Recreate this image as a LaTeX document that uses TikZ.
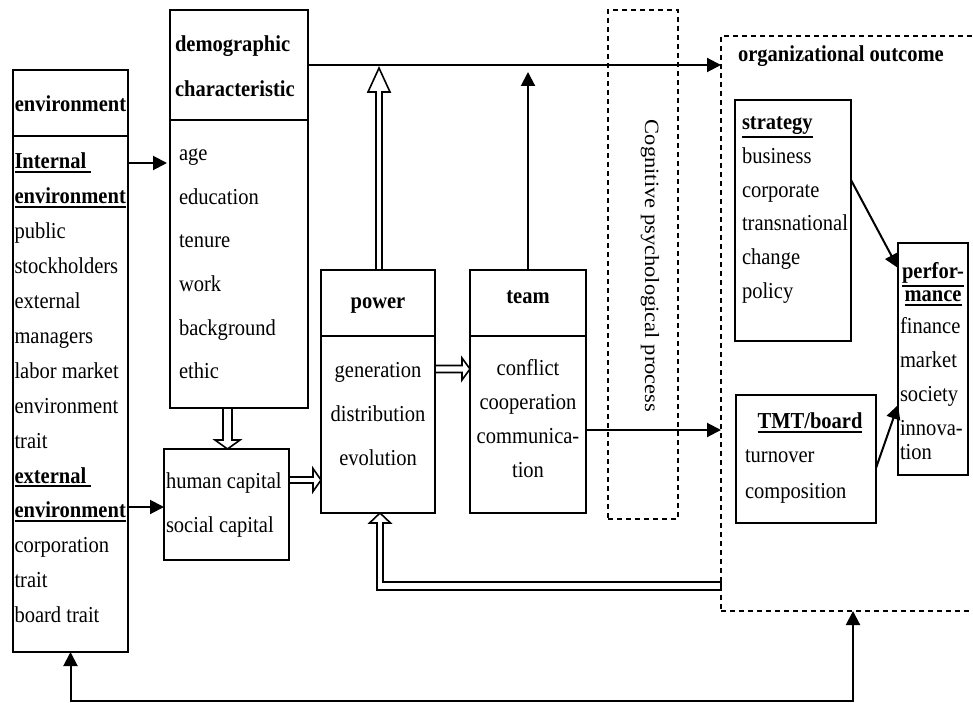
\documentclass[tikz,border=0pt]{standalone}
\usepackage{fontspec}
\usepackage{graphicx}
\setmainfont{Liberation Serif}[FakeStretch=0.9]
\newfontfamily\cogfont{Liberation Serif}
\usetikzlibrary{arrows.meta,calc}
\newcommand\fs[1]{\fontsize{22.8}{#1}\selectfont}
\newcommand\ulb[1]{\leavevmode\vtop{\hbox{\textbf{#1}}\kern2pt\hrule height 1.8pt}}
\newcommand\hollowarrow[5]{%
  \coordinate (ha-c) at ($(#2)!#5!(#1)$);
  \draw[hollow] ($(#1)!#3!90:(#2)$) -- ($(ha-c)!#3!90:(#2)$) -- ($(ha-c)!#4!90:(#2)$) -- (#2)
    -- ($(ha-c)!#4!-90:(#2)$) -- ($(ha-c)!#3!-90:(#2)$) -- ($(#1)!#3!-90:(#2)$) -- cycle;}
\begin{document}
\begin{tikzpicture}[x=1pt,y=-1pt,
  box/.style={draw, line width=1.8pt, inner sep=0pt, outer sep=0pt},
  dbox/.style={draw, dash pattern=on 5pt off 4pt, line width=1.6pt, inner sep=0pt, outer sep=0pt},
  txt/.style={inner sep=0pt, outer sep=0pt},
  arr/.style={line width=2pt, -{Triangle[length=14pt,width=14pt]}},
  hollow/.style={line width=1.6pt, fill=white, line join=miter}]
\useasboundingbox (0,0) rectangle (973,703);
\clip (0,0) rectangle (973,703);

% boxes
\node[box, minimum width=115pt, minimum height=66pt] (envH) at (70.5,103) {};
\node[box, minimum width=115pt, minimum height=516pt] (envB) at (70.5,394) {};
\node[box, minimum width=138pt, minimum height=110pt] (demH) at (239,65) {};
\node[box, minimum width=138pt, minimum height=288pt] (demB) at (239,264) {};
\node[box, minimum width=125pt, minimum height=111pt] (hc) at (226.5,504.5) {};
\node[box, minimum width=114pt, minimum height=66pt] (powH) at (378,303) {};
\node[box, minimum width=114pt, minimum height=177pt] (powB) at (378,424.5) {};
\node[box, minimum width=116pt, minimum height=66pt] (teamH) at (528,303) {};
\node[box, minimum width=116pt, minimum height=177pt] (teamB) at (528,424.5) {};
\node[dbox, minimum width=70pt, minimum height=509pt] (cog) at (643,264.5) {};
\node[dbox, minimum width=279pt, minimum height=575pt] (outc) at (860.5,323.5) {};
\node[box, minimum width=116pt, minimum height=241pt] (strat) at (793,220.5) {};
\node[box, minimum width=70pt, minimum height=232pt] (perf) at (933,359) {};
\node[box, minimum width=140pt, minimum height=128pt] (tmt) at (806,459) {};

% texts
\node[txt, font=\fs{24}\bfseries] (envHt) at (70.5,104) {environment};
\node[txt, anchor=west, align=left, font=\fs{34.9}] (envBt) at (14.5,388)
  {\ulb{Internal\ }\\\ulb{environment}\\public\\stockholders\\external\\managers\\labor market\\environment\\trait\\\ulb{external\ }\\\ulb{environment}\\corporation\\trait\\board trait};
\node[txt, anchor=west, align=left, font=\fs{45}\bfseries] (demHt) at (175,66.5) {demographic\\characteristic};
\node[txt, anchor=west, align=left, font=\fs{43.6}] (demBt) at (179,264) {age\\education\\tenure\\work\\background\\ethic};
\node[txt, anchor=west, align=left, font=\fs{44}] (hct) at (166,505) {human capital\\social capital};
\node[txt, font=\fs{24}\bfseries] (powHt) at (378,306) {power};
\node[txt, align=center, font=\fs{44}] (powBt) at (378,414) {generation\\distribution\\evolution};
\node[txt, font=\fs{24}\bfseries] (teamHt) at (528,297) {team};
\node[txt, align=center, font=\fs{34}] (teamBt) at (528,419) {conflict\\cooperation\\communica-\\tion};
\node[txt, rotate=-90, font=\fontsize{22.5}{26}\cogfont] (cogt) at (650,266) {\scalebox{1}[0.9]{Cognitive psychological process}};
\node[txt, anchor=west, font=\fs{24}\bfseries] (outct) at (738,56) {organizational outcome};
\node[txt, anchor=west, align=left, font=\fs{33.8}] (stratt) at (742,210) {\ulb{strategy}\\business\\corporate\\transnational\\change\\policy};
\node[txt, align=center, font=\fs{23}] (perfT) at (933,284) {\ulb{perfor-}\\\ulb{mance}};
\node[txt, anchor=west, align=left, font=\fs{34}] (perfL) at (900,389) {finance\\market\\society\\innova-\\[-10pt]tion};
\node[txt, font=\fs{24}] (tmtT) at (810,423) {\ulb{TMT/board}};
\node[txt, anchor=west, align=left, font=\fs{36}] (tmtL) at (745,477) {turnover\\composition};

% black arrows
\draw[arr] (demH.east) -- (outc.west |- demH.east);
\coordinate (ta) at ($(teamH.north |- demH.east)+(0,7)$);
\draw[arr] (teamH.north) -- (ta);
\coordinate (ia) at ($(envB.north east)+(0,27)$);
\draw[arr, shorten >=3pt] (ia) -- (ia -| demB.west);
\coordinate (ea) at ($(envB.north east)+(0,371)$);
\draw[arr] (ea) -- (ea -| hc.west);
\coordinate (to) at ($(teamB.east)+(0,5.5)$);
\draw[arr] (to) -- (to -| outc.west);
\coordinate (sp1) at ($(strat.north east)+(0,80)$);
\coordinate (sp2) at ($(perf.north west)+(0,25)$);
\draw[arr] (sp1) -- (sp2);
\coordinate (tp1) at ($(tmt.north east)+(0,73)$);
\coordinate (tp2) at ($(perf.north west)+(0,162)$);
\draw[arr] (tp1) -- (tp2);
\coordinate (ob) at ($(outc.south)+(-7.5,0)$);
\draw[line width=2pt, {Triangle[length=14pt,width=14pt]}-{Triangle[length=14pt,width=14pt]}]
  (envB.south) -- ++(0,48.5) -| (ob);

% hollow arrows
\coordinate (pa) at ($(powH.north |- demH.east)+(0,3)$);
\coordinate (pb) at ($(powH.north)+(1,0)$);
\coordinate (pa2) at ($(pa)+(1,0)$);
\hollowarrow{pb}{pa2}{3pt}{11pt}{24pt}
\coordinate (hcS) at ($(hc.north |- demB.south)+(1,0)$);
\coordinate (hcE) at ($(hc.north)+(1,0)$);
\hollowarrow{hcS}{hcE}{4.5pt}{12.5pt}{9pt}
\coordinate (hp1) at ($(hc.north east)+(0,31)$);
\coordinate (hp2) at (hp1 -| powB.west);
\hollowarrow{hp1}{hp2}{3pt}{11.5pt}{8pt}
\coordinate (pt1) at ($(powB.north east)+(0,33)$);
\coordinate (pt2) at (pt1 -| teamB.west);
\hollowarrow{pt1}{pt2}{3.5pt}{11pt}{8pt}
\coordinate (fb) at ($(outc.west)+(0,262.5)$);
\coordinate (fbc) at ($(powB.south |- fb)+(2,0)$);
\draw[hollow] ($(fb)+(0,-4)$) -- ($(fbc)+(3,-4)$) -- ($(fbc |- powB.south)+(3,10)$) -- ++(7.5,0)
  -- (fbc |- powB.south) -- ($(fbc |- powB.south)+(-10.5,10)$) -- ++(7.5,0)
  -- ($(fbc)+(-3,4)$) -- ($(fb)+(0,4)$) -- cycle;
\end{tikzpicture}
\end{document}
